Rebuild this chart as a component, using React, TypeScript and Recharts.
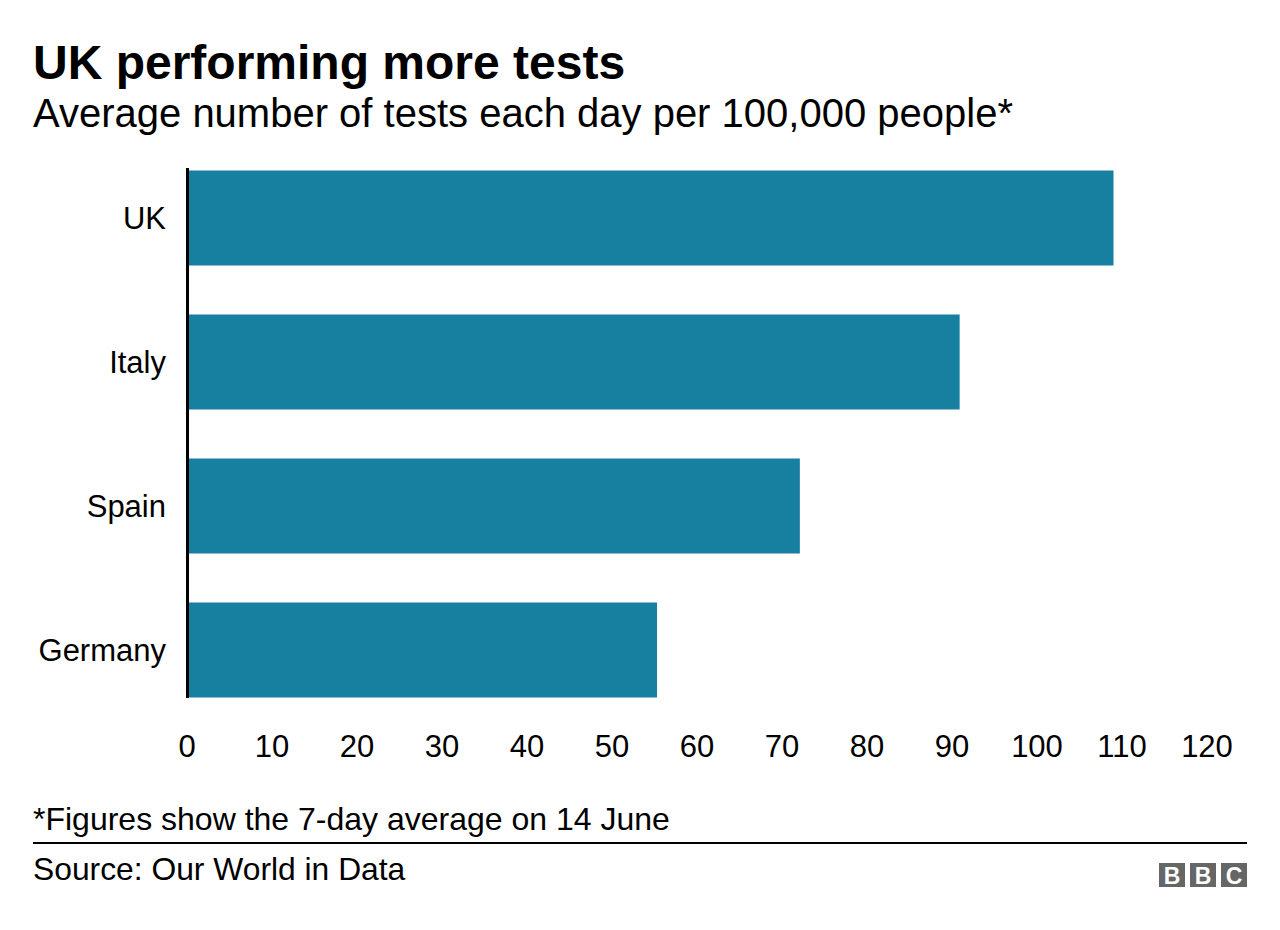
import React from "react";
import { BarChart, Bar, XAxis, YAxis } from "recharts";

const countries = ["UK", "Italy", "Spain", "Germany"];
const testsPer100k = [109.0, 90.9, 72.1, 55.3];
const xTicks = [0, 10, 20, 30, 40, 50, 60, 70, 80, 90, 100, 110, 120];

const title = "UK performing more tests";
const subtitle = "Average number of tests each day per 100,000 people*";
const footnote = "*Figures show the 7-day average on 14 June";
const source = "Source: Our World in Data";

const data = countries.map((c, i) => ({ country: c, value: testsPer100k[i] }));

const FONT = "'Liberation Sans', Arial, Helvetica, sans-serif";
const BAR_COLOR = "#1780a1";

export default function App() {
  return (
    <div
      style={{
        position: "absolute",
        left: 0,
        top: 0,
        width: 1280,
        height: 930,
        background: "#ffffff",
        fontFamily: FONT,
      }}
    >
      <div style={{ position: "absolute", left: 0, top: 0 }}>
        <BarChart
          width={1280}
          height={930}
          data={data}
          layout="vertical"
          margin={{ top: 145.5, right: 73, bottom: 168.5, left: 0 }}
          barCategoryGap="17%"
        >
          <XAxis
            type="number"
            domain={[0, 120]}
            ticks={xTicks}
            interval={0}
            axisLine={false}
            tickLine={false}
            tickSize={0}
            tickMargin={13}
            height={40}
            tick={{ fill: "#000000", fontSize: 31, fontFamily: FONT }}
          />
          <YAxis
            type="category"
            dataKey="country"
            width={187}
            axisLine={false}
            tickLine={false}
            tickSize={0}
            tickMargin={21}
            tick={{ fill: "#000000", fontSize: 31, fontFamily: FONT }}
          />
          <Bar dataKey="value" fill={BAR_COLOR} barSize={95} isAnimationActive={false} />
        </BarChart>
      </div>
      <svg
        width={1280}
        height={930}
        style={{ position: "absolute", left: 0, top: 0, pointerEvents: "none" }}
      >
        <rect x={186} y={168} width={3} height={530} fill="#000000" />
        <text x={33} y={79} fontFamily={FONT} fontSize={48} fontWeight="bold" fill="#000">
          {title}
        </text>
        <text x={33} y={127} fontFamily={FONT} fontSize={40} fill="#000">
          {subtitle}
        </text>
        <text x={33} y={830} fontFamily={FONT} fontSize={32} fill="#000">
          {footnote}
        </text>
        <rect x={33} y={842} width={1214} height={2} fill="#000000" />
        <text x={33} y={880} fontFamily={FONT} fontSize={31.8} fill="#000">
          {source}
        </text>
        {["B", "B", "C"].map((ch, i) => (
          <g key={i}>
            <rect x={1159 + i * 31} y={863} width={26} height={24} fill="#666666" />
            <text
              x={1159 + i * 31 + 13}
              y={884}
              textAnchor="middle"
              fontFamily={FONT}
              fontSize={23}
              fontWeight="bold"
              fill="#ffffff"
            >
              {ch}
            </text>
          </g>
        ))}
      </svg>
    </div>
  );
}
